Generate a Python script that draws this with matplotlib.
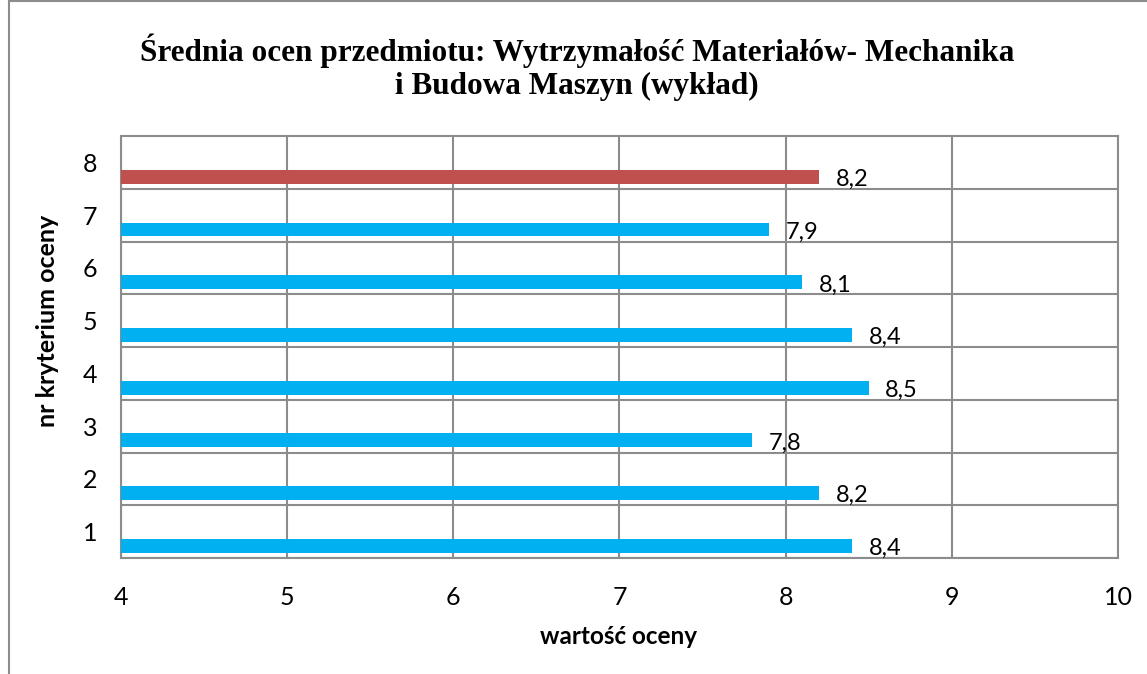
import matplotlib
matplotlib.use("Agg")
import matplotlib.pyplot as plt

# data
kryteria = [1, 2, 3, 4, 5, 6, 7, 8]
oceny = [8.4, 8.2, 7.8, 8.5, 8.4, 8.1, 7.9, 8.2]
kolory = ['#00B0F0'] * 7 + ['#C0504D']
tytul = 'Średnia ocen przedmiotu: Wytrzymałość Materiałów- Mechanika\ni Budowa Maszyn (wykład)'

fig = plt.figure(figsize=(11.47, 6.74), dpi=100)
ax = fig.add_axes([0.1055, 0.172, 0.8692, 0.626])

# bars sit in the lower part of each band (excel style, second empty series)
pos = [k - 0.27 for k in kryteria]
ax.barh(pos, oceny, height=0.265, left=0, color=kolory, zorder=3)

for p, v in zip(pos, oceny):
    ax.text(v + 0.1, p - 0.05, ('%.1f' % v).replace('.', ','), va='center', ha='left',
            fontsize=17, family='Lato', zorder=4)

ax.set_xlim(4, 10)
ax.set_ylim(0.5, 8.5)
ax.set_xticks(range(4, 11))
ax.set_yticks(kryteria)
ax.set_yticks([k + 0.5 for k in range(0, 8)], minor=True)
ax.tick_params(axis='both', which='both', length=0, labelsize=18)
ax.tick_params(axis='x', pad=20)
ax.tick_params(axis='y', pad=17)
for lab in ax.get_xticklabels() + ax.get_yticklabels():
    lab.set_family('Lato')

ax.grid(axis='x', which='major', color='#8c8c8c', lw=1.5, zorder=1)
ax.grid(axis='y', which='minor', color='#8c8c8c', lw=1.5, zorder=1)
for s in ax.spines.values():
    s.set_color('#8c8c8c')
    s.set_linewidth(1.5)

fig.text(619 / 1147, 1 - 636 / 674, 'wartość oceny', ha='center', va='center',
         fontsize=17.5, fontweight='bold', family='Lato')
fig.text(48 / 1147, 1 - 321 / 674, 'nr kryterium oceny', ha='center', va='center', rotation=90,
         fontsize=18, fontweight='bold', family='Lato')

fig.text(0.503, 0.9, tytul, ha='center', va='center', fontsize=22.5, fontweight='bold',
         family='Liberation Serif', linespacing=1.2)

# outer chart frame (cropped: only top and left edge visible)
fig.add_artist(plt.Line2D([0.008, 1], [0.998, 0.998], color='#8c8c8c', lw=1.5, transform=fig.transFigure))
fig.add_artist(plt.Line2D([0.008, 0.008], [0, 0.998], color='#8c8c8c', lw=1.5, transform=fig.transFigure))

fig.savefig('out.png', dpi=100)
